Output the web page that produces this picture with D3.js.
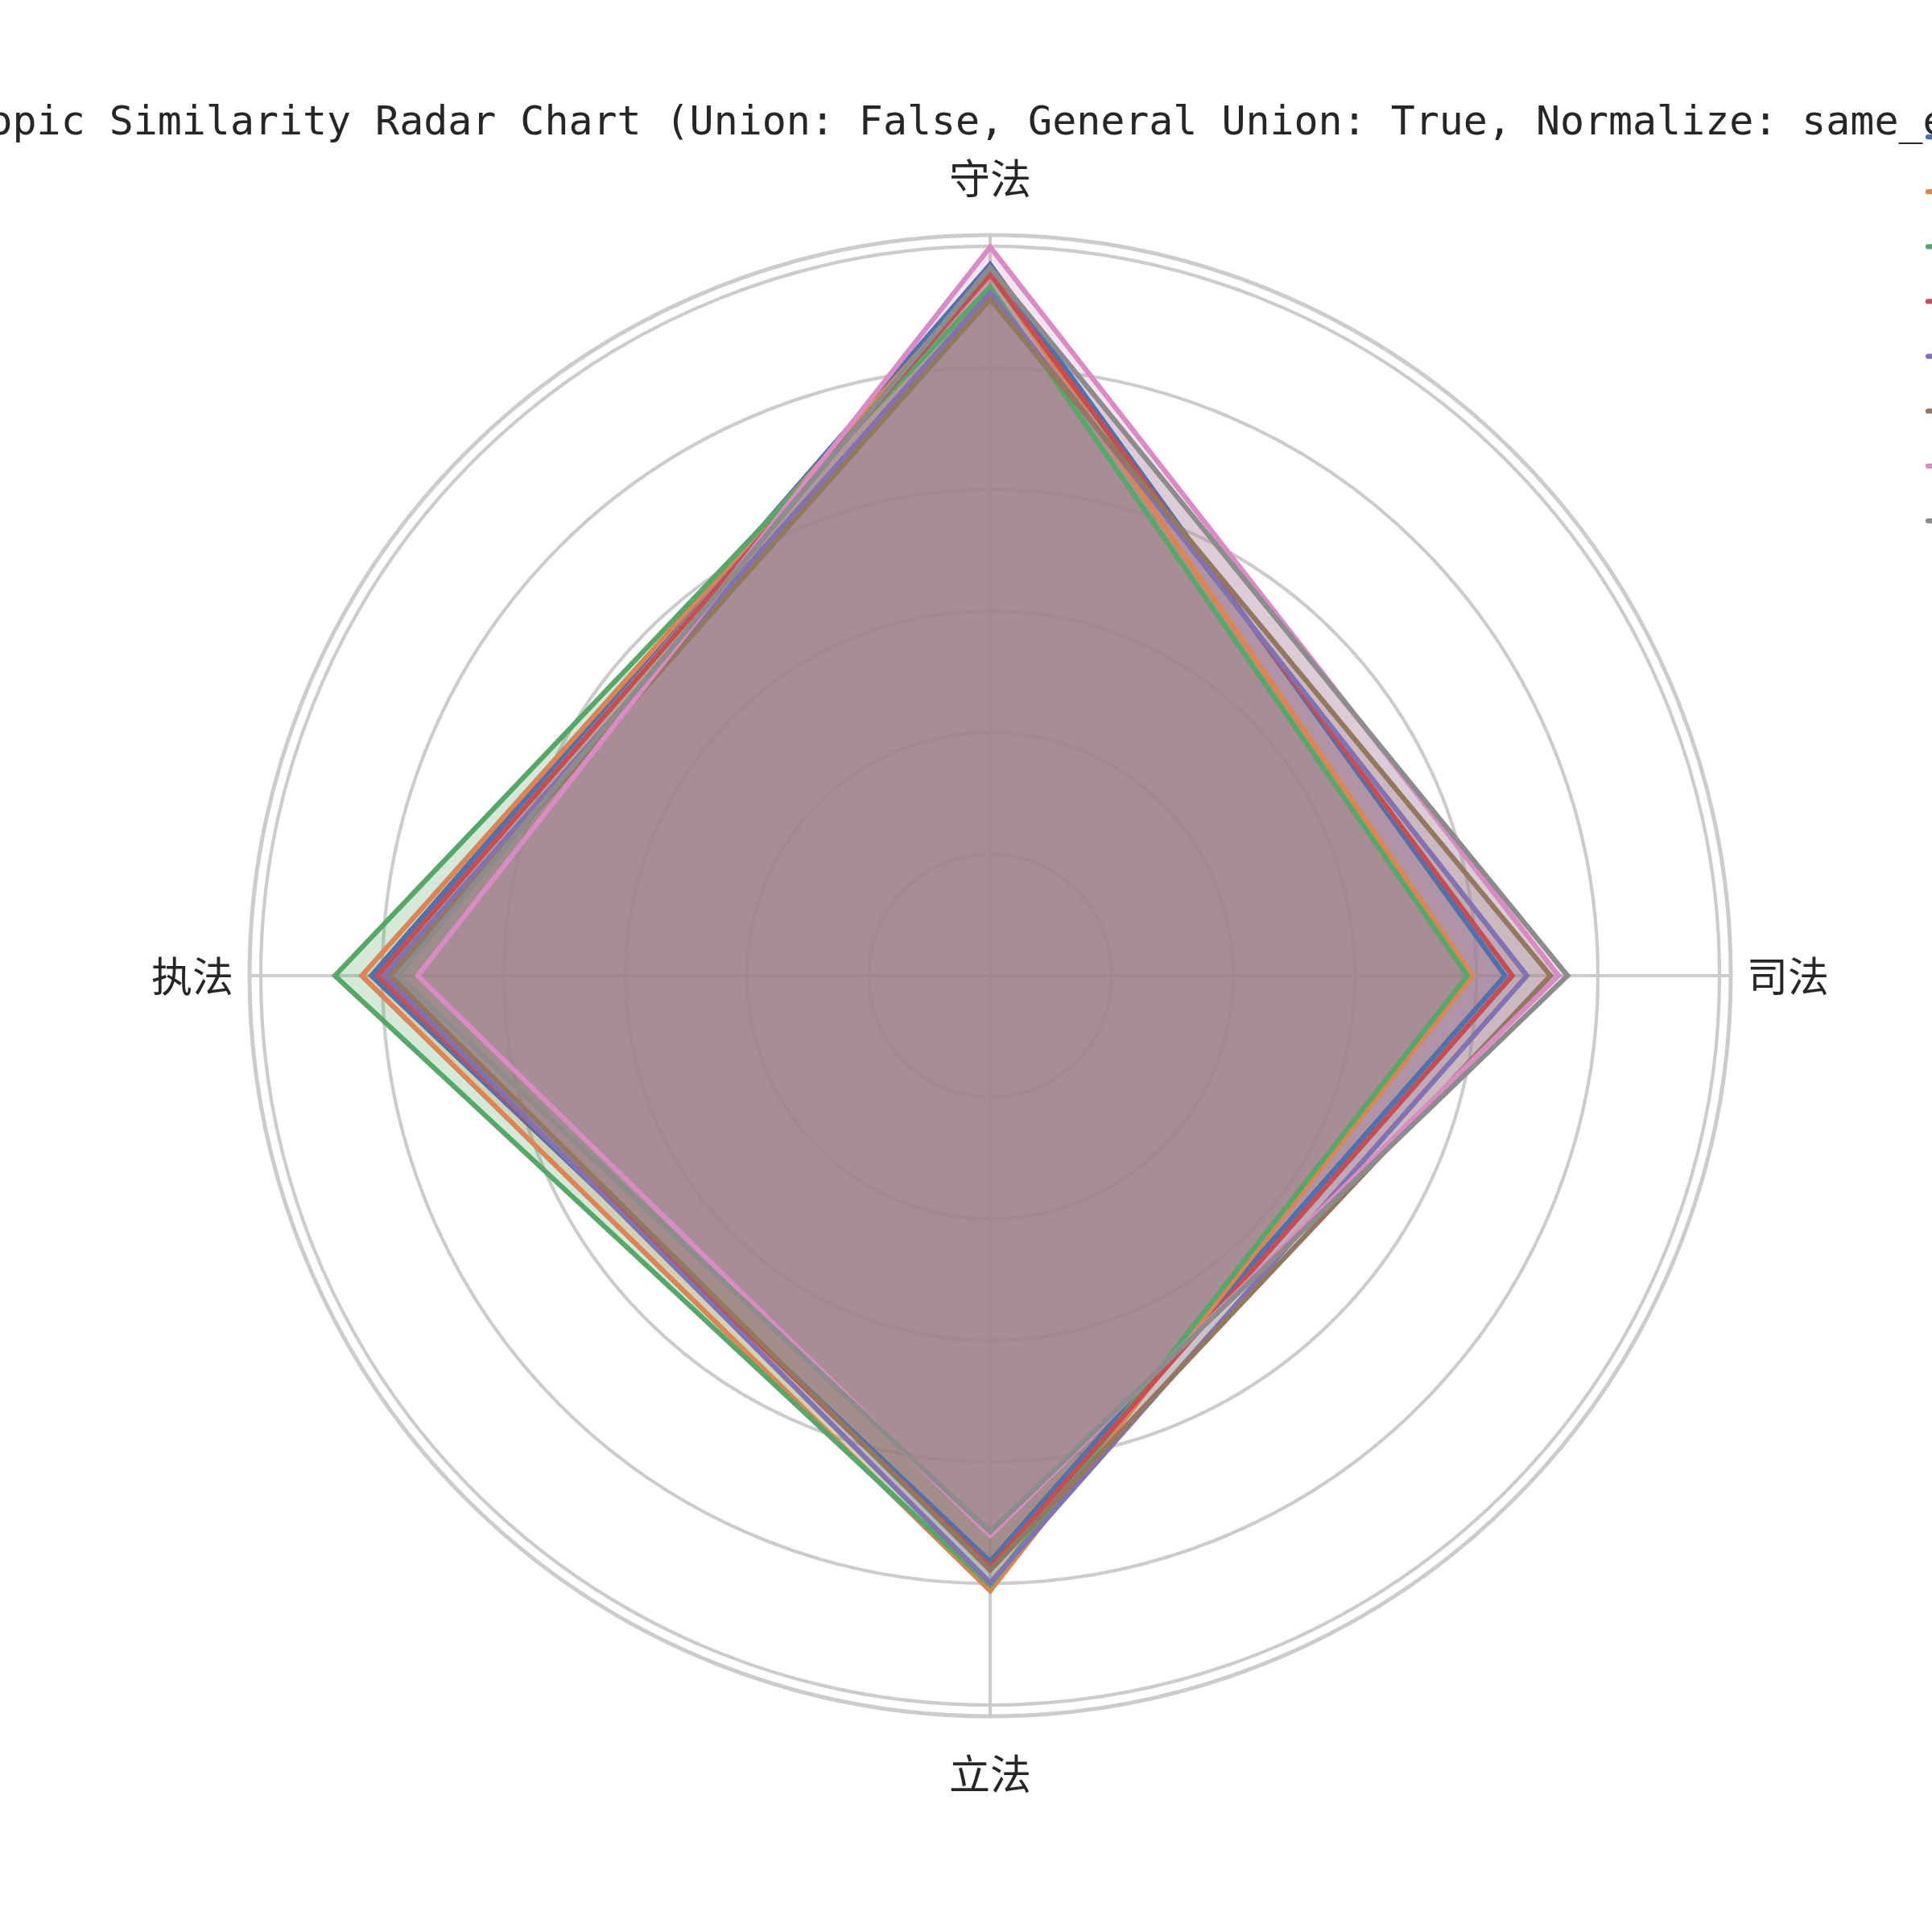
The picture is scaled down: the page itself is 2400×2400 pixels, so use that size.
<!DOCTYPE html>
<html>
<head>
<meta charset="utf-8">
<script src="https://cdn.jsdelivr.net/npm/d3@7"></script>
<style>
  html, body { margin: 0; padding: 0; background: #ffffff; }
  svg { display: block; }
</style>
</head>
<body>
<script>
// ---- data ----
const categories = ["守法", "司法", "立法", "执法"];
const seriesNames = ["Series 1", "Series 2", "Series 3", "Series 4", "Series 5", "Series 6", "Series 7", "Series 8"];
const seriesColors = ["#4C72B0", "#DD8452", "#55A868", "#C44E52", "#8172B3", "#937860", "#DA8BC3", "#8C8C8C"];
const values1 = [1.170, 0.847, 0.964, 1.018];
const values2 = [1.157, 0.793, 1.012, 1.034];
const values3 = [1.133, 0.785, 1.003, 1.078];
const values4 = [1.154, 0.859, 0.973, 1.008];
const values5 = [1.124, 0.883, 0.999, 0.997];
const values6 = [1.113, 0.922, 0.978, 0.987];
const values7 = [1.199, 0.935, 0.921, 0.942];
const values8 = [1.165, 0.950, 0.915, 0.975];
const radialTicks = [0.2, 0.4, 0.6, 0.8, 1.0, 1.2];
const radialMax = 1.2185;
const titleText = "Topic Similarity Radar Chart (Union: False, General Union: True, Normalize: same_entity)";

const allSeries = [values1, values2, values3, values4, values5, values6, values7, values8];

// ---- layout ----
const W = 2400, H = 2400;
const cx = 1230, cy = 1212;
const R = 920;

const svg = d3.select("body").append("svg")
  .attr("width", W).attr("height", H)
  .attr("viewBox", `0 0 ${W} ${H}`);
svg.append("rect").attr("width", W).attr("height", H).attr("fill", "#ffffff");

const angle = d3.scaleLinear().domain([0, categories.length]).range([0, 2 * Math.PI]);
const r = d3.scaleLinear().domain([0, radialMax]).range([0, R]);

const g = svg.append("g").attr("transform", `translate(${cx},${cy})`);

// grid circles
g.selectAll("circle.grid").data(radialTicks).join("circle")
  .attr("class", "grid")
  .attr("r", d => r(d))
  .attr("fill", "none")
  .attr("stroke", "#cccccc")
  .attr("stroke-width", 4.2);

// spokes
g.selectAll("line.spoke").data(categories).join("line")
  .attr("class", "spoke")
  .attr("x1", 0).attr("y1", 0)
  .attr("x2", (d, i) => R * Math.sin(angle(i)))
  .attr("y2", (d, i) => -R * Math.cos(angle(i)))
  .attr("stroke", "#cccccc")
  .attr("stroke-width", 4.2);

// outer spine
g.append("circle")
  .attr("r", r(radialMax))
  .attr("fill", "none")
  .attr("stroke", "#cccccc")
  .attr("stroke-width", 5);

const radial = d3.lineRadial()
  .angle((d, i) => angle(i))
  .radius(d => r(d))
  .curve(d3.curveLinearClosed);

// fills (below lines)
g.selectAll("path.fill").data(allSeries).join("path")
  .attr("class", "fill")
  .attr("d", d => radial(d))
  .attr("fill", (d, i) => seriesColors[i])
  .attr("fill-opacity", 0.25)
  .attr("stroke", "none");

// lines
g.selectAll("path.line").data(allSeries).join("path")
  .attr("class", "line")
  .attr("d", d => radial(d))
  .attr("fill", "none")
  .attr("stroke", (d, i) => seriesColors[i])
  .attr("stroke-width", 6.25)
  .attr("stroke-linejoin", "miter");

// category labels
const labelR = 991;
g.selectAll("text.cat").data(categories).join("text")
  .attr("class", "cat")
  .attr("x", (d, i) => labelR * Math.sin(angle(i)))
  .attr("y", (d, i) => -labelR * Math.cos(angle(i)) - 2)
  .attr("text-anchor", "middle")
  .attr("dominant-baseline", "central")
  .attr("font-family", "'Noto Sans CJK SC', 'Noto Sans CJK JP', sans-serif")
  .attr("font-size", 51)
  .attr("fill", "#262626")
  .text(d => d);

// title (clipped by the canvas as in the reference)
svg.append("text")
  .attr("x", -44.5)
  .attr("y", 167)
  .attr("text-anchor", "start")
  .attr("font-family", "'DejaVu Sans Mono', 'Liberation Mono', monospace")
  .attr("font-size", 49.9)
  .attr("fill", "#262626")
  .text(titleText);

// legend (mostly outside the canvas, as in the reference)
const legendY = d3.scaleLinear().domain([0, seriesNames.length - 1]).range([170, 647]);
const leg = svg.append("g");
seriesNames.forEach((name, i) => {
  leg.append("line")
    .attr("x1", 2395).attr("x2", 2475)
    .attr("y1", legendY(i)).attr("y2", legendY(i))
    .attr("stroke", seriesColors[i])
    .attr("stroke-width", 6.25)
    .attr("stroke-linecap", "round");
  leg.append("text")
    .attr("x", 2510).attr("y", legendY(i))
    .attr("dominant-baseline", "central")
    .attr("font-family", "'DejaVu Sans Mono', monospace")
    .attr("font-size", 42)
    .attr("fill", "#262626")
    .text(name);
});
</script>
</body>
</html>
